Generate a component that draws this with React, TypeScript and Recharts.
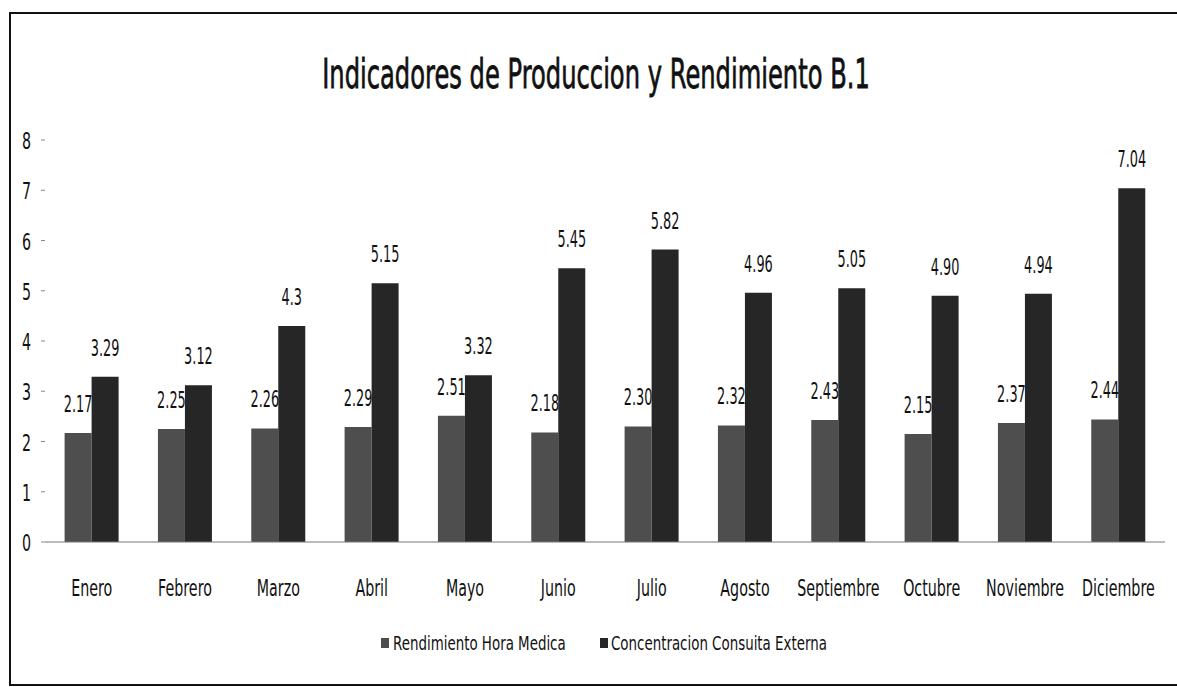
import React from 'react';
import { BarChart, Bar, XAxis, YAxis, LabelList } from 'recharts';

const months = ['Enero', 'Febrero', 'Marzo', 'Abril', 'Mayo', 'Junio', 'Julio', 'Agosto', 'Septiembre', 'Octubre', 'Noviembre', 'Diciembre'];
const rendimiento = [2.17, 2.25, 2.26, 2.29, 2.51, 2.18, 2.3, 2.32, 2.43, 2.15, 2.37, 2.44];
const rendimientoLabels = ['2.17', '2.25', '2.26', '2.29', '2.51', '2.18', '2.30', '2.32', '2.43', '2.15', '2.37', '2.44'];
const concentracion = [3.29, 3.12, 4.3, 5.15, 3.32, 5.45, 5.82, 4.96, 5.05, 4.9, 4.94, 7.04];
const concentracionLabels = ['3.29', '3.12', '4.3', '5.15', '3.32', '5.45', '5.82', '4.96', '5.05', '4.90', '4.94', '7.04'];
const yTicks = [0, 1, 2, 3, 4, 5, 6, 7, 8];

const data = months.map((m, i) => ({
  month: m,
  rhm: rendimiento[i],
  rhmLabel: rendimientoLabels[i],
  cce: concentracion[i],
  cceLabel: concentracionLabels[i],
}));

const FONT = "'DejaVu Sans', sans-serif";
const C1 = '#4e4e4e';
const C2 = '#262626';

// scanned Calibri-ish text: tall and narrow, so squeeze it horizontally
const Narrow = ({ x, y, sx, size, anchor = 'middle', bold = 0, children }: any) => (
  <text
    transform={`translate(${x},${y}) scale(${sx},1)`}
    textAnchor={anchor}
    fontFamily={FONT}
    fontSize={size}
    fill="#111"
    stroke={bold ? '#111' : 'none'}
    strokeWidth={bold}
  >
    {children}
  </text>
);

const XTick = ({ x, y, payload }: any) => (
  <Narrow x={x} y={y + 46} sx={0.62} size={23}>{payload.value}</Narrow>
);

const YTick = ({ x, y, payload }: any) => (
  <Narrow x={x - 8} y={y + 9} sx={0.62} size={23} anchor="end">{payload.value}</Narrow>
);

const TopLabel = ({ x, y, width, value }: any) => (
  <Narrow x={x + width / 2} y={y - 21} sx={0.56} size={23}>{value}</Narrow>
);

const LegendBox = () => (
  <svg width={1177} height={40} style={{ position: 'absolute', left: 0, top: 625 }}>
    <rect x={381} y={13} width={8} height={10} fill={C1} />
    <Narrow x={393} y={25} sx={0.67} size={20} anchor="start">Rendimiento Hora Medica</Narrow>
    <rect x={600} y={13} width={8} height={10} fill={C2} />
    <Narrow x={611} y={25} sx={0.67} size={20} anchor="start">Concentracion Consuita Externa</Narrow>
  </svg>
);

export default function App() {
  return (
    <div style={{ position: 'absolute', left: 0, top: 0, width: 1177, height: 687, background: '#fff', overflow: 'hidden' }}>
      <div style={{ position: 'absolute', left: 9, top: 12, width: 1170, height: 670, border: '2px solid #111' }} />
      <svg width={1177} height={130} style={{ position: 'absolute', left: 0, top: 0 }}>
        <Narrow x={596} y={88} sx={0.59} size={41} bold={0.8}>Indicadores de Produccion y Rendimiento B.1</Narrow>
      </svg>
      <div style={{ position: 'absolute', left: 0, top: 0 }}>
        <BarChart width={1177} height={687} data={data} margin={{ top: 140, right: 12, bottom: 115, left: 10 }} barGap={0} barCategoryGap="21%">
          <XAxis
            dataKey="month"
            height={30}
            tickLine={false}
            axisLine={{ stroke: '#777' }}
            tick={<XTick />}
            interval={0}
          />
          <YAxis
            domain={[0, 8]}
            ticks={yTicks}
            width={35}
            axisLine={false}
            tickLine={{ stroke: '#888' }}
            tickSize={4}
            tick={<YTick />}
          />
          <Bar dataKey="rhm" name="Rendimiento Hora Medica" fill={C1} isAnimationActive={false}>
            <LabelList dataKey="rhmLabel" content={<TopLabel />} />
          </Bar>
          <Bar dataKey="cce" name="Concentracion Consuita Externa" fill={C2} isAnimationActive={false}>
            <LabelList dataKey="cceLabel" content={<TopLabel />} />
          </Bar>
        </BarChart>
      </div>
      <LegendBox />
    </div>
  );
}
